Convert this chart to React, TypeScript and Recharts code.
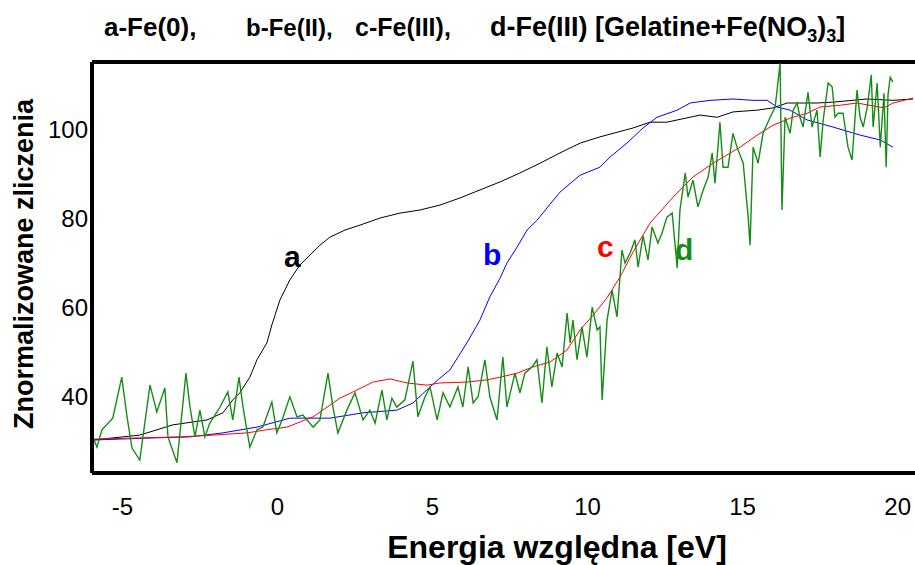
import React from 'react';
import { LineChart, Line, XAxis, YAxis, ReferenceLine } from 'recharts';

// Energy [eV] / normalised counts
const curveA: [number, number][] = [
  [-5.95, 30.3], [-4.44, 31.4], [-3.37, 33.7], [-2.27, 34.8], [-1.76, 36.4], [-1.44, 39.3],
  [-1.21, 40.9], [-0.89, 44.4], [-0.66, 48.3], [-0.34, 52.1], [-0.18, 56.1], [0.08, 61.7],
  [0.4, 66.2], [0.73, 69.6], [1.05, 71.8], [1.37, 74.0], [1.69, 75.8], [2.18, 77.4],
  [2.66, 78.5], [3.31, 80.1], [3.95, 81.2], [4.6, 81.9], [5.24, 83.0], [5.89, 84.6],
  [6.53, 86.4], [7.18, 88.2], [7.82, 90.2], [8.47, 92.4], [9.11, 94.7], [9.76, 96.9],
  [10.4, 98.3], [11.47, 100.3], [12.02, 101.6], [12.56, 101.6], [13.63, 103.2], [14.18, 102.7],
  [14.69, 103.9], [15.47, 104.3], [15.98, 104.8], [16.44, 105.9], [17.4, 105.9], [17.92, 106.1],
  [19.02, 106.8], [19.85, 106.5], [20.5, 106.8],
];

const curveB: [number, number][] = [
  [-5.95, 30.3], [-3.89, 30.8], [-2.82, 31.0], [-1.76, 31.9], [-0.66, 33.2], [0.4, 35.2],
  [1.69, 35.2], [2.76, 36.4], [3.85, 37.0], [4.37, 38.6], [4.92, 42.2], [5.24, 44.2],
  [5.56, 46.0], [6.11, 52.1], [6.53, 57.2], [6.85, 62.4], [7.18, 66.6], [7.4, 70.0],
  [7.73, 73.6], [8.05, 77.4], [8.37, 79.6], [9.11, 85.9], [9.76, 89.7], [10.4, 91.5],
  [10.73, 93.8], [11.27, 96.9], [11.79, 100.3], [12.24, 102.7], [12.89, 104.3], [13.31, 105.9],
  [13.95, 106.5], [14.69, 106.8], [15.34, 106.5], [15.79, 106.5], [16.11, 105.0], [16.53, 104.3],
  [17.08, 102.1], [17.92, 100.5], [18.79, 98.7], [19.44, 97.6], [19.85, 96.0],
];

const curveC: [number, number][] = [
  [-5.95, 30.5], [-3.15, 31.0], [-2.08, 31.4], [-0.98, 31.9], [-0.34, 32.6], [0.31, 33.2],
  [1.15, 35.5], [2.02, 39.7], [2.56, 41.5], [3.08, 43.3], [3.63, 44.0], [4.18, 43.1],
  [4.82, 42.6], [5.24, 43.1], [6.11, 43.3], [6.76, 43.8], [7.18, 44.4], [7.73, 45.3],
  [8.24, 46.7], [8.79, 47.8], [9.34, 50.5], [9.76, 55.0], [10.18, 58.3], [10.63, 62.2],
  [11.05, 66.9], [11.47, 72.5], [12.02, 79.0], [12.76, 84.8], [13.4, 89.3], [14.05, 92.4],
  [14.92, 96.0], [15.47, 98.7], [15.98, 100.9], [16.53, 102.5], [17.08, 103.6], [17.5, 105.0],
  [18.15, 105.4], [18.69, 105.9], [19.56, 104.8], [19.85, 105.9], [20.5, 107.0],
];

const curveD: [number, number][] = [
  [-5.95, 30.8], [-5.82, 28.7], [-5.66, 32.6], [-5.31, 35.2], [-5.02, 44.4], [-4.85, 35.5],
  [-4.69, 28.5], [-4.44, 25.8], [-4.11, 42.6], [-3.89, 36.6], [-3.63, 42.0], [-3.53, 31.0],
  [-3.24, 25.2], [-2.95, 45.3], [-2.82, 37.7], [-2.66, 31.0], [-2.5, 37.0], [-2.34, 31.0],
  [-2.18, 34.1], [-1.85, 37.7], [-1.6, 41.1], [-1.44, 34.8], [-1.24, 44.4], [-1.11, 37.7],
  [-0.89, 28.7], [-0.66, 32.6], [-0.47, 33.2], [-0.18, 38.8], [-0.02, 31.9], [0.15, 34.8],
  [0.4, 40.0], [0.63, 35.5], [0.82, 35.9], [1.15, 33.2], [1.37, 34.8], [1.63, 45.3],
  [1.79, 37.7], [1.95, 31.9], [2.24, 37.0], [2.5, 40.9], [2.76, 34.8], [2.98, 37.0],
  [3.15, 34.1], [3.37, 41.5], [3.53, 34.8], [3.69, 39.7], [3.85, 37.7], [4.11, 39.3],
  [4.37, 48.0], [4.53, 35.5], [4.76, 40.0], [4.92, 42.2], [5.15, 34.8], [5.34, 40.9],
  [5.56, 37.7], [5.82, 42.2], [5.98, 37.7], [6.15, 46.7], [6.31, 38.6], [6.47, 40.0],
  [6.69, 48.3], [6.85, 40.0], [7.08, 34.8], [7.27, 48.9], [7.4, 37.7], [7.66, 45.3],
  [7.82, 40.9], [7.98, 45.3], [8.21, 46.7], [8.37, 48.3], [8.53, 38.6], [8.69, 51.2],
  [8.85, 42.2], [9.02, 49.8], [9.18, 46.7], [9.34, 58.8], [9.44, 52.1], [9.53, 57.2],
  [9.66, 48.3], [9.82, 55.7], [9.98, 48.9], [10.15, 60.1], [10.31, 55.0], [10.4, 55.7],
  [10.47, 39.3], [10.63, 57.2], [10.79, 63.9], [10.95, 57.9], [11.11, 72.9], [11.21, 70.0],
  [11.37, 72.2], [11.53, 75.2], [11.63, 69.1], [11.79, 76.1], [11.95, 70.7], [12.08, 78.1],
  [12.27, 74.5], [12.4, 76.7], [12.56, 80.3], [12.73, 81.2], [12.89, 68.9], [12.98, 81.9],
  [13.15, 90.2], [13.24, 84.8], [13.4, 88.6], [13.56, 82.6], [13.73, 86.4], [13.89, 89.3],
  [14.02, 94.7], [14.11, 87.9], [14.27, 101.6], [14.37, 91.5], [14.53, 91.5], [14.69, 99.1],
  [14.82, 96.0], [15.02, 92.4], [15.18, 80.3], [15.24, 74.0], [15.34, 96.0], [15.5, 92.4],
  [15.66, 99.1], [15.89, 102.7], [16.05, 105.0], [16.21, 114.8], [16.27, 81.9], [16.37, 102.7],
  [16.53, 99.1], [16.63, 104.3], [16.76, 105.9], [16.85, 102.7], [16.95, 100.5], [17.11, 108.3],
  [17.24, 100.5], [17.4, 104.3], [17.5, 93.8], [17.6, 102.1], [17.76, 110.4], [17.89, 109.5],
  [17.98, 102.7], [18.08, 103.6], [18.24, 103.6], [18.4, 96.0], [18.53, 93.1], [18.69, 108.8],
  [18.79, 102.7], [18.89, 100.5], [19.02, 105.0], [19.15, 112.2], [19.21, 100.5], [19.34, 110.4],
  [19.44, 96.0], [19.56, 108.1], [19.63, 91.5], [19.69, 107.7], [19.76, 111.7], [19.85, 110.6],
];

const xTicks = [-5, 0, 5, 10, 15, 20];
const yTicks = [40, 60, 80, 100];
const xDomain: [number, number] = [-5.98, 20.56];
const yDomain: [number, number] = [22.9, 115.1];

const toRows = (pts: [number, number][]) => pts.map(([x, v]) => ({ x, v }));

const FONT = '"Liberation Sans", Arial, sans-serif';

export default function App() {
  return (
    <div style={{ position: 'absolute', left: 0, top: 0, width: 915, height: 565, background: '#fff' }}>
      <LineChart width={915} height={565} margin={{ top: 62, right: 0, bottom: 0, left: 0 }}>
        <XAxis
          type="number"
          dataKey="x"
          domain={xDomain}
          ticks={xTicks}
          allowDataOverflow
          height={92}
          axisLine={{ stroke: '#000', strokeWidth: 4 }}
          tickLine={false}
          tickSize={0}
          tickMargin={25}
          tick={{ fontSize: 24, fill: '#000', fontFamily: FONT }}
          label={{
            content: () => (
              <text x={557} y={558} textAnchor="middle" fontFamily={FONT} fontWeight="bold" fontSize={32} fill="#000">
                Energia względna [eV]
              </text>
            ),
          }}
        />
        <YAxis
          type="number"
          dataKey="v"
          domain={yDomain}
          ticks={yTicks}
          allowDataOverflow
          width={92}
          axisLine={{ stroke: '#000', strokeWidth: 4 }}
          tickLine={false}
          tickSize={2}
          tickMargin={2}
          tick={{ fontSize: 24, fill: '#000', fontFamily: FONT }}
          label={{
            content: () => (
              <text
                transform="translate(33,264) rotate(-90)"
                x={0}
                y={0}
                textAnchor="middle"
                fontFamily={FONT}
                fontWeight="bold"
                fontSize={27}
                fill="#000"
              >
                Znormalizowane zliczenia
              </text>
            ),
          }}
        />
        <ReferenceLine y={yDomain[1]} stroke="#000" strokeWidth={4} />
        <Line data={toRows(curveA)} dataKey="v" type="linear" stroke="#000000" strokeWidth={1} dot={false} isAnimationActive={false} />
        <Line data={toRows(curveB)} dataKey="v" type="linear" stroke="#0000ff" strokeWidth={1} dot={false} isAnimationActive={false} />
        <Line data={toRows(curveC)} dataKey="v" type="linear" stroke="#ff0000" strokeWidth={1} dot={false} isAnimationActive={false} />
        <Line data={toRows(curveD)} dataKey="v" type="linear" stroke="#168c16" strokeWidth={1.4} dot={false} isAnimationActive={false} />
      </LineChart>
      <svg width={915} height={565} style={{ position: 'absolute', left: 0, top: 0, pointerEvents: 'none' }}>
        <g fontFamily={FONT} fontWeight="bold" fontSize={26} fill="#000">
          <text x={104} y={36}>a-Fe(0),</text>
          <text x={246} y={36} fontSize={24}>b-Fe(II),</text>
          <text x={355} y={36} fontSize={25}>c-Fe(III),</text>
          <text x={490} y={36} fontSize={27}>
            d-Fe(III) [Gelatine+Fe(NO
            <tspan fontSize={18} dy={6}>3</tspan>
            <tspan dy={-6}>)</tspan>
            <tspan fontSize={18} dy={6}>3</tspan>
            <tspan dy={-6}>]</tspan>
          </text>
        </g>
        <g fontFamily={FONT} fontWeight="bold" fontSize={30}>
          <text x={284} y={267} fill="#000">a</text>
          <text x={483} y={265} fill="#0000ff">b</text>
          <text x={597} y={257} fill="#ff0000">c</text>
          <text x={675} y={260} fill="#168c16">d</text>
        </g>
      </svg>
    </div>
  );
}
